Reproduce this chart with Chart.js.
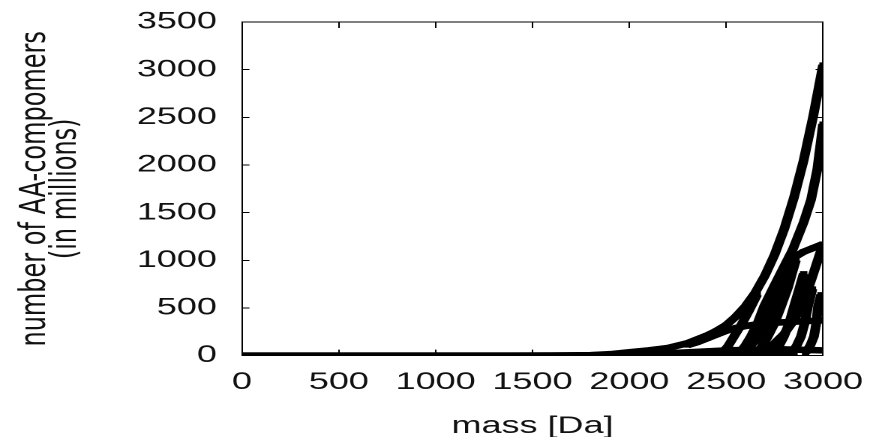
<!DOCTYPE html>
<html lang="en">
<head>
<meta charset="UTF-8" />
<title>AA-compomers</title>
<script src="https://cdn.jsdelivr.net/npm/chart.js"></script>
<style>
  html, body { margin: 0; padding: 0; background: #fff; overflow: hidden; }
  /* the original picture is stretched sideways, so the chart is drawn narrow and widened */
  #wrap { width: 584px; height: 437px; transform: scaleX(1.5); transform-origin: 0 0; }
</style>
</head>
<body>
<div id="wrap"><canvas id="c" width="584" height="437"></canvas></div>
<script>
// mass [Da] -> number of compomers (millions)
const massA = [0, 200, 400, 600, 800, 1000, 1200, 1400, 1600, 1800, 1900, 2000, 2100, 2200, 2300, 2400, 2450, 2500, 2550, 2600, 2650, 2700, 2750, 2800, 2850, 2900, 2950, 3000];
const valA  = [0, 0, 0, 0, 0, 0, 0, 0, 1, 5, 15, 35, 55, 80, 130, 210, 260, 320, 410, 520, 660, 840, 1060, 1330, 1660, 2050, 2520, 3050];

const massB = [2570, 2600, 2627, 2660, 2695, 2740, 2790, 2843, 2900, 2938, 2970, 3000];
const valB  = [30, 110, 200, 330, 515, 700, 900, 1110, 1400, 1636, 1950, 2430];

const massC = [2600, 2650, 2700, 2750, 2800, 2834, 2850, 2900, 2950, 3000];
const valC  = [60, 150, 330, 600, 880, 1000, 1030, 1090, 1130, 1170];

const massD = [2700, 2750, 2800, 2850, 2900, 2950, 3000];
const valD  = [60, 130, 230, 370, 560, 860, 1170];

const massE = [2300, 2350, 2400, 2450, 2500, 2550, 2600, 2650, 2700, 2750, 2800, 2850, 2900, 2950, 3000];
const valE  = [110, 140, 180, 220, 260, 290, 310, 325, 335, 345, 350, 355, 360, 365, 370];

const massF = [2000, 2200, 2400, 2500, 2600, 2700, 2800, 2900, 3000];
const valF  = [10, 25, 45, 55, 60, 65, 65, 60, 55];

const massZ = [0, 500, 1000, 1500, 2000, 2500, 2850];
const valZ  = [0, 0, 0, 0, 0, 0, 0];

const massG1 = [2480, 2510, 2540, 2580, 2620, 2660];
const valG1  = [30, 100, 200, 330, 480, 640];
const massG3 = [2660, 2690, 2715, 2750, 2783, 2820, 2845, 2860];
const valG3  = [30, 110, 200, 340, 515, 720, 900, 1000];
const massG4 = [2750, 2775, 2798, 2825, 2850, 2880, 2900];
const valG4  = [30, 110, 200, 340, 515, 720, 860];
const massG5 = [2840, 2865, 2886, 2905, 2922, 2945];
const valG5  = [30, 110, 200, 340, 515, 700];
const massG6 = [2910, 2935, 2953, 2965, 2974, 2990];
const valG6  = [30, 110, 200, 340, 515, 640];

const xTicks = [0, 500, 1000, 1500, 2000, 2500, 3000];
const yTicks = [0, 500, 1000, 1500, 2000, 2500, 3000, 3500];

const series = [
  [massZ, valZ], [massA, valA], [massB, valB], [massC, valC], [massD, valD],
  [massE, valE], [massF, valF], [massG1, valG1], [massG3, valG3],
  [massG4, valG4], [massG5, valG5], [massG6, valG6]
];

const datasets = series.map(([m, v]) => ({
  data: m.map((x, i) => ({ x: x, y: v[i] })),
  showLine: true,
  borderColor: '#000',
  backgroundColor: '#000',
  borderWidth: 6.5,
  pointStyle: 'rect',
  pointRadius: 3.5,
  pointBorderWidth: 0
}));

const tickFont = { family: 'Liberation Sans', size: 24 };
const ink = '#111';

// fixed box sizes; label overflow must not push the plot area around
function fixWidth(w) {
  return s => { s.width = w; s.paddingTop = 0; s.paddingBottom = 0; };
}
function fixHeight(h) {
  return s => { s.height = h; s.paddingLeft = 0; s.paddingRight = 0; };
}

new Chart(document.getElementById('c'), {
  type: 'scatter',
  data: { datasets: datasets },
  options: {
    responsive: false,
    animation: false,
    devicePixelRatio: 2,
    layout: { autoPadding: false, padding: { left: 0, right: 35.3, top: 22, bottom: 0 } },
    plugins: { legend: { display: false }, tooltip: { enabled: false } },
    scales: {
      x: {
        type: 'linear', position: 'bottom', min: 0, max: 3000,
        afterBuildTicks: s => { s.ticks = xTicks.map(v => ({ value: v })); },
        ticks: { font: tickFont, color: ink, padding: 18.5, maxRotation: 0, autoSkip: false, callback: v => String(v) },
        grid: { drawOnChartArea: false, tickLength: -6, color: '#000', lineWidth: 1 },
        border: { color: '#000', width: 1 },
        title: { display: true, text: 'mass [Da]', font: tickFont, color: ink, padding: { top: 0, bottom: -4 } },
        afterFit: fixHeight(81.4)
      },
      x2: {
        type: 'linear', axis: 'x', position: 'top', min: 0, max: 3000,
        afterBuildTicks: s => { s.ticks = xTicks.map(v => ({ value: v })); },
        ticks: { display: false },
        grid: { drawOnChartArea: false, tickLength: -6, color: '#000', lineWidth: 1 },
        border: { color: '#000', width: 1 },
        afterFit: fixHeight(0)
      },
      y: {
        type: 'linear', position: 'left', min: 0, max: 3500,
        afterBuildTicks: s => { s.ticks = yTicks.map(v => ({ value: v })); },
        ticks: { font: tickFont, color: ink, padding: 21.7, callback: v => String(v) },
        grid: { drawOnChartArea: false, tickLength: -5, color: '#000', lineWidth: 1 },
        border: { color: '#000', width: 1 },
        title: {
          display: true,
          text: ['number of AA-compomers', '(in millions)'],
          font: { family: 'DejaVu Sans', size: 24, lineHeight: 0.86 },
          color: ink,
          padding: { top: 13.4, bottom: 0 }
        },
        afterFit: fixWidth(161.3)
      },
      y2: {
        type: 'linear', axis: 'y', position: 'right', min: 0, max: 3500,
        afterBuildTicks: s => { s.ticks = yTicks.map(v => ({ value: v })); },
        ticks: { display: false },
        grid: { drawOnChartArea: false, tickLength: -5, color: '#000', lineWidth: 1 },
        border: { color: '#000', width: 1 },
        afterFit: fixWidth(0)
      }
    }
  }
});
</script>
</body>
</html>
